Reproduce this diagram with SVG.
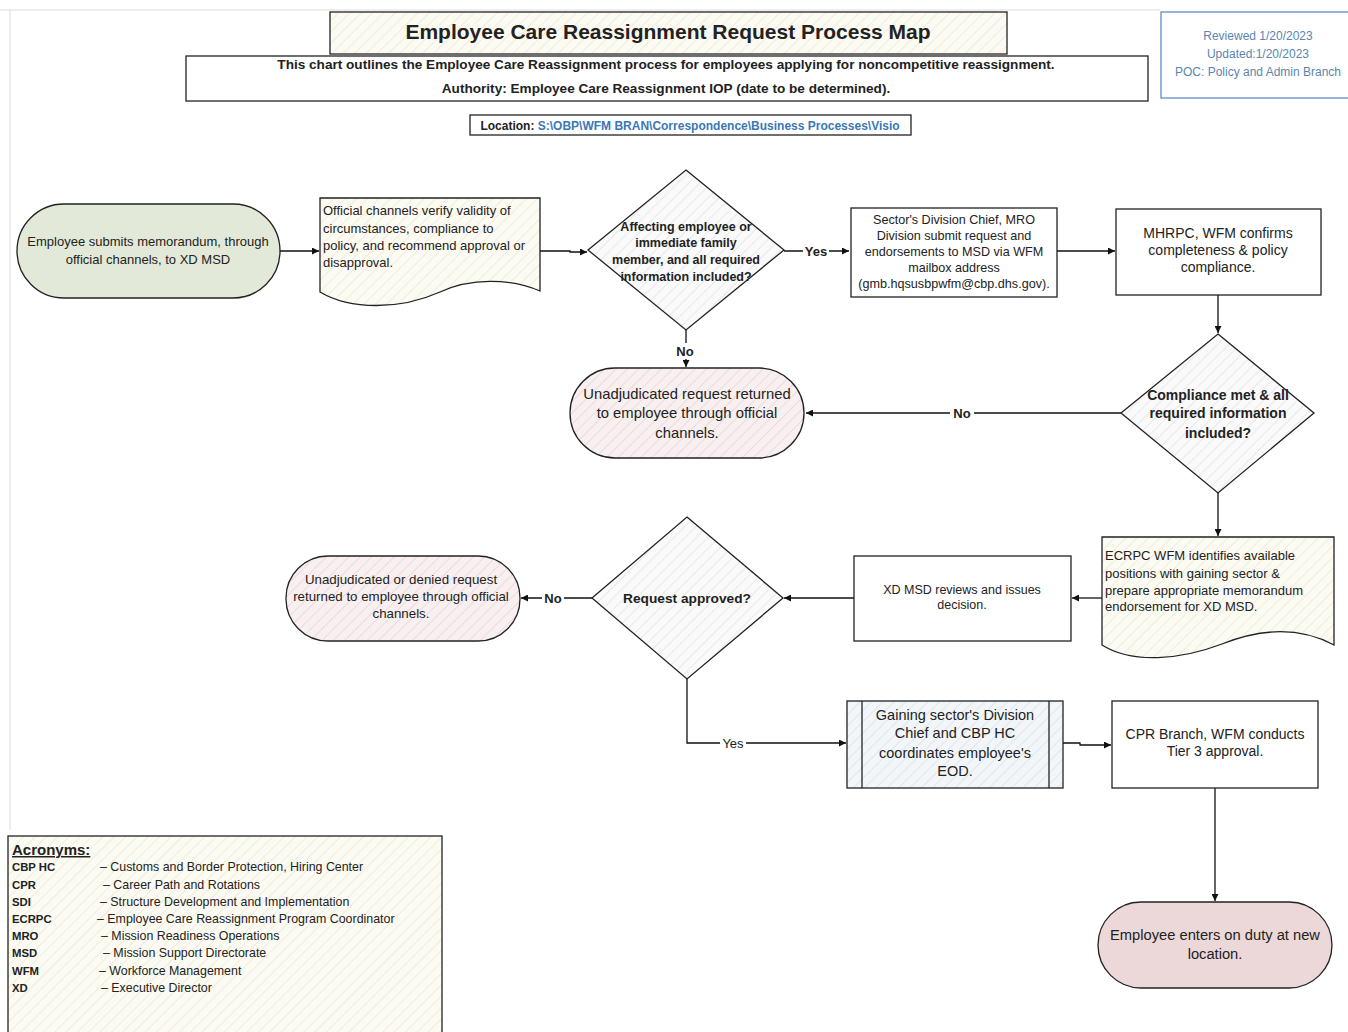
<svg xmlns="http://www.w3.org/2000/svg" width="1348" height="1032" viewBox="0 0 1348 1032">
<style>
text{font-family:"Liberation Sans",Arial,sans-serif;fill:#222}
.b{font-weight:bold}
.c{text-anchor:middle}
.s{stroke:#222;stroke-width:1.3}
.con{fill:none;stroke:#111;stroke-width:1.3}
.lbl{font-size:13px;font-weight:bold;text-anchor:middle}
.blue{fill:#3a78b8}
.rv{fill:#5b85b0}
</style>
<defs>
<pattern id="hCream" width="8" height="8" patternUnits="userSpaceOnUse" patternTransform="rotate(45)">
<rect width="8" height="8" fill="#fcfbf3"/><line x1="0" y1="0" x2="0" y2="8" stroke="#ebe3cc" stroke-width="1.2"/></pattern>
<pattern id="hGrey" width="8" height="8" patternUnits="userSpaceOnUse" patternTransform="rotate(45)">
<rect width="8" height="8" fill="#fafafa"/><line x1="0" y1="0" x2="0" y2="8" stroke="#dedede" stroke-width="1.2"/></pattern>
<pattern id="hPink" width="8" height="8" patternUnits="userSpaceOnUse" patternTransform="rotate(45)">
<rect width="8" height="8" fill="#f8f0f0"/><line x1="0" y1="0" x2="0" y2="8" stroke="#e6cccc" stroke-width="1.2"/></pattern>
<pattern id="hBlue" width="8" height="8" patternUnits="userSpaceOnUse" patternTransform="rotate(45)">
<rect width="8" height="8" fill="#f3f6f9"/><line x1="0" y1="0" x2="0" y2="8" stroke="#d2dce6" stroke-width="1.2"/></pattern>
<marker id="ah" viewBox="0 0 10 10" refX="10" refY="5" markerWidth="7" markerHeight="7" orient="auto-start-reverse" markerUnits="userSpaceOnUse">
<path d="M0,0 L10,5 L0,10 Z" fill="#111"/></marker>
</defs>
<rect width="1348" height="1032" fill="#ffffff"/>
<g id="page-border" stroke="#dcdcdc" stroke-width="1" fill="none">
<line x1="0" y1="10" x2="1160" y2="10"/>
<line x1="10" y1="10" x2="10" y2="830"/>
</g>

<g id="title">
<rect x="330" y="12" width="677" height="42" fill="url(#hCream)" class="s"/>
<text x="668" y="39" class="b c" font-size="21">Employee Care Reassignment Request Process Map</text>
</g>
<g id="subtitle">
<rect x="186" y="56" width="962" height="45" fill="#fff" class="s"/>
<text x="666" y="69" class="b c" font-size="13.6">This chart outlines the Employee Care Reassignment process for employees applying for noncompetitive reassignment.</text>
<text x="666" y="93" class="b c" font-size="13.6">Authority: Employee Care Reassignment IOP (date to be determined).</text>
</g>
<g id="location">
<rect x="470" y="115" width="441" height="20" fill="#fff" class="s"/>
<text x="690" y="129.5" class="b c" font-size="12">Location: <tspan class="blue">S:\OBP\WFM BRAN\Correspondence\Business Processes\Visio</tspan></text>
</g>
<g id="review">
<rect x="1161" y="12" width="190" height="86" fill="#fff" stroke="#5b8fc4" stroke-width="1.3"/>
<text x="1258" y="40" class="c rv" font-size="12">Reviewed 1/20/2023</text>
<text x="1258" y="58" class="c rv" font-size="12">Updated:1/20/2023</text>
<text x="1258" y="76" class="c rv" font-size="12">POC: Policy and Admin Branch</text>
</g>

<g id="connectors">
<line x1="280" y1="251" x2="319" y2="251" class="con" marker-end="url(#ah)"/>
<polyline points="540,251 570,251 570,252 587,252" class="con" marker-end="url(#ah)"/>
<line x1="784" y1="251" x2="849" y2="251" class="con" marker-end="url(#ah)"/>
<line x1="1057" y1="251" x2="1115" y2="251" class="con" marker-end="url(#ah)"/>
<line x1="1218" y1="295" x2="1218" y2="333" class="con" marker-end="url(#ah)"/>
<line x1="686" y1="330" x2="686" y2="367" class="con" marker-end="url(#ah)"/>
<line x1="1121" y1="413" x2="806" y2="413" class="con" marker-end="url(#ah)"/>
<line x1="1218" y1="493" x2="1218" y2="536" class="con" marker-end="url(#ah)"/>
<line x1="1102" y1="598" x2="1072" y2="598" class="con" marker-end="url(#ah)"/>
<line x1="854" y1="598" x2="784" y2="598" class="con" marker-end="url(#ah)"/>
<line x1="592" y1="598" x2="521" y2="598" class="con" marker-end="url(#ah)"/>
<polyline points="687,679 687,743 846,743" class="con" marker-end="url(#ah)"/>
<polyline points="1063,743 1080,743 1080,745 1111,745" class="con" marker-end="url(#ah)"/>
<line x1="1215" y1="788" x2="1215" y2="901" class="con" marker-end="url(#ah)"/>
<g id="labels">
<rect x="803" y="243" width="26" height="16" fill="#fff"/>
<text x="816" y="256" class="lbl">Yes</text>
<rect x="674" y="343" width="24" height="16" fill="#fff"/>
<text x="685" y="356" class="lbl">No</text>
<rect x="950" y="405" width="24" height="16" fill="#fff"/>
<text x="962" y="418" class="lbl">No</text>
<rect x="542" y="590" width="22" height="16" fill="#fff"/>
<text x="553" y="603" class="lbl">No</text>
<rect x="720" y="735" width="26" height="16" fill="#fff"/>
<text x="733" y="748" class="lbl" style="font-weight:normal">Yes</text>
</g>
</g>

<g id="start">
<rect x="17" y="204" width="263" height="94" rx="47" fill="#e2e9d8" class="s"/>
<text x="148" y="246" class="c" font-size="13">Employee submits memorandum, through</text>
<text x="148" y="264" class="c" font-size="13">official channels, to XD MSD</text>
</g>
<g id="verify">
<path d="M320,198 L540,198 L540,291 C510,278 470,278 440,292 C400,310 350,310 320,292 Z" fill="url(#hCream)" class="s"/>
<text x="323" y="215" font-size="13">Official channels verify validity of</text>
<text x="323" y="233" font-size="13">circumstances, compliance to</text>
<text x="323" y="250" font-size="13">policy, and recommend approval or</text>
<text x="323" y="267" font-size="13">disapproval.</text>
</g>
<g id="decision1">
<polygon points="686,170 784,250 686,330 588,250" fill="url(#hGrey)" class="s"/>
<text x="686" y="231" class="b c" font-size="12.5">Affecting employee or</text>
<text x="686" y="247" class="b c" font-size="12.5">immediate family</text>
<text x="686" y="264" class="b c" font-size="12.5">member, and all required</text>
<text x="686" y="281" class="b c" font-size="12.5">information included?</text>
</g>
<g id="sector">
<rect x="851" y="208" width="206" height="89" fill="#fff" class="s"/>
<text x="954" y="224" class="c" font-size="12.6">Sector's Division Chief, MRO</text>
<text x="954" y="240" class="c" font-size="12.6">Division submit request and</text>
<text x="954" y="256" class="c" font-size="12.6">endorsements to MSD via WFM</text>
<text x="954" y="272" class="c" font-size="12.6">mailbox address</text>
<text x="954" y="288" class="c" font-size="12.6">(gmb.hqsusbpwfm@cbp.dhs.gov).</text>
</g>
<g id="mhrpc">
<rect x="1116" y="209" width="205" height="86" fill="#fff" class="s"/>
<text x="1218" y="238" class="c" font-size="14">MHRPC, WFM confirms</text>
<text x="1218" y="255" class="c" font-size="14">completeness &amp; policy</text>
<text x="1218" y="272" class="c" font-size="14">compliance.</text>
</g>
<g id="decision2">
<polygon points="1218,334 1314,413 1218,493 1121,413" fill="url(#hGrey)" class="s"/>
<text x="1218" y="400" class="b c" font-size="14">Compliance met &amp; all</text>
<text x="1218" y="418" class="b c" font-size="14">required information</text>
<text x="1218" y="438" class="b c" font-size="14">included?</text>
</g>
<g id="returned1">
<rect x="570" y="368" width="234" height="90" rx="45" fill="url(#hPink)" class="s"/>
<text x="687" y="399" class="c" font-size="14.8">Unadjudicated request returned</text>
<text x="687" y="418" class="c" font-size="14.8">to employee through official</text>
<text x="687" y="438" class="c" font-size="14.8">channels.</text>
</g>
<g id="ecrpc">
<path d="M1102,537 L1334,537 L1334,645 C1300,627 1262,628 1222,644 C1180,660 1132,664 1102,645 Z" fill="url(#hCream)" class="s"/>
<text x="1105" y="560" font-size="13">ECRPC WFM  identifies available</text>
<text x="1105" y="578" font-size="13">positions with gaining sector &amp;</text>
<text x="1105" y="595" font-size="13">prepare appropriate memorandum</text>
<text x="1105" y="611" font-size="13">endorsement for XD MSD.</text>
</g>
<g id="xdmsd">
<rect x="854" y="556" width="217" height="85" fill="#fff" class="s"/>
<text x="962" y="594" class="c" font-size="12.5">XD MSD reviews and issues</text>
<text x="962" y="609" class="c" font-size="12.5">decision.</text>
</g>
<g id="decision3">
<polygon points="687,517 783,598 687,679 592,598" fill="url(#hGrey)" class="s"/>
<text x="687" y="603" class="b c" font-size="13.7">Request approved?</text>
</g>
<g id="returned2">
<rect x="286" y="556" width="234" height="85" rx="42" fill="url(#hPink)" class="s"/>
<text x="401" y="584" class="c" font-size="13.3">Unadjudicated or denied request</text>
<text x="401" y="601" class="c" font-size="13.3">returned to employee through official</text>
<text x="401" y="618" class="c" font-size="13.3">channels.</text>
</g>
<g id="gaining">
<rect x="847" y="701" width="216" height="87" fill="url(#hBlue)" class="s"/>
<line x1="862" y1="701" x2="862" y2="788" class="s"/>
<line x1="1049" y1="701" x2="1049" y2="788" class="s"/>
<text x="955" y="720" class="c" font-size="14.5">Gaining sector's Division</text>
<text x="955" y="738" class="c" font-size="14.5">Chief and CBP HC</text>
<text x="955" y="758" class="c" font-size="14.5">coordinates employee's</text>
<text x="955" y="776" class="c" font-size="14.5">EOD.</text>
</g>
<g id="cpr">
<rect x="1112" y="701" width="206" height="87" fill="#fff" class="s"/>
<text x="1215" y="739" class="c" font-size="14">CPR Branch, WFM conducts</text>
<text x="1215" y="756" class="c" font-size="14">Tier 3 approval.</text>
</g>
<g id="end">
<rect x="1098" y="902" width="234" height="86" rx="43" fill="#ecd8d8" class="s"/>
<text x="1215" y="940" class="c" font-size="14.7">Employee enters on duty at new</text>
<text x="1215" y="959" class="c" font-size="14.7">location.</text>
</g>
<g id="acronyms">
<rect x="8" y="836" width="434" height="200" fill="url(#hCream)" class="s"/>
<text x="12" y="855" class="b" font-size="15" text-decoration="underline">Acronyms:</text>
<g font-size="12.4">
<text x="12" y="871" class="b" font-size="11.3">CBP HC</text><text x="100" y="871">– Customs and Border Protection, Hiring Center</text>
<text x="12" y="889" class="b" font-size="11.3">CPR</text><text x="103" y="889">– Career Path and Rotations</text>
<text x="12" y="906" class="b" font-size="11.3">SDI</text><text x="100" y="906">– Structure Development and Implementation</text>
<text x="12" y="923" class="b" font-size="11.3">ECRPC</text><text x="97" y="923">– Employee Care Reassignment Program Coordinator</text>
<text x="12" y="940" class="b" font-size="11.3">MRO</text><text x="101" y="940">– Mission Readiness Operations</text>
<text x="12" y="957" class="b" font-size="11.3">MSD</text><text x="103" y="957">– Mission Support Directorate</text>
<text x="12" y="975" class="b" font-size="11.3">WFM</text><text x="99" y="975">– Workforce Management</text>
<text x="12" y="992" class="b" font-size="11.3">XD</text><text x="101" y="992">– Executive Director</text>
</g>
</g>
</svg>
